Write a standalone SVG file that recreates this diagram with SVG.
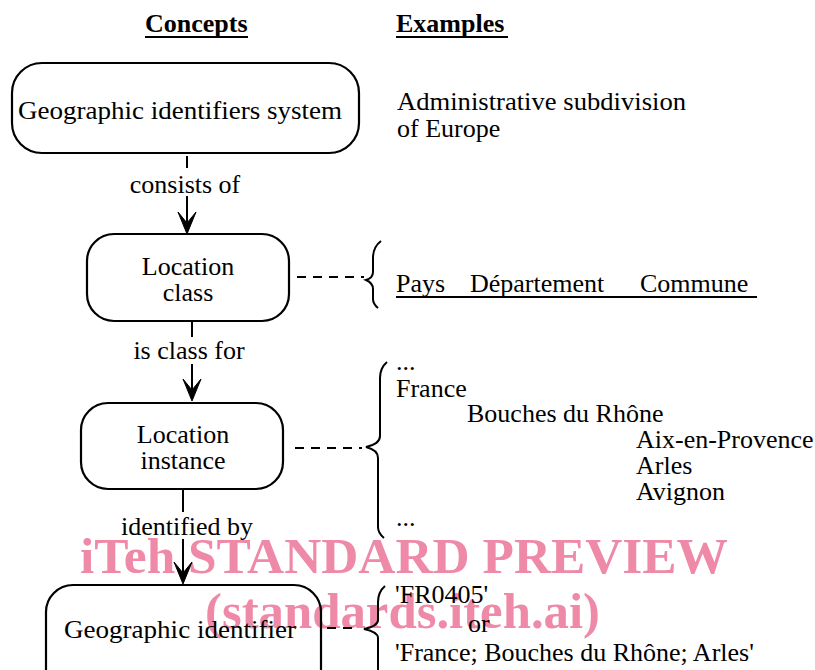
<svg xmlns="http://www.w3.org/2000/svg" width="815" height="670" viewBox="0 0 815 670">
<style>
.t{font-family:"Liberation Serif","Times New Roman",serif;font-size:26px;fill:#000}
.b{font-weight:bold}
.box{fill:none;stroke:#000;stroke-width:2.2}
.ln{fill:none;stroke:#000;stroke-width:2}
.dash{fill:none;stroke:#000;stroke-width:2;stroke-dasharray:9 7}
.br{fill:none;stroke:#000;stroke-width:2}
.wm{font-family:"Liberation Serif","Times New Roman",serif;font-weight:bold;font-size:50px;fill:#ee8aa8}
</style>
<defs>
<path id="ah" d="M0,0 L-9,-22 L0,-11 L9,-22 Z" fill="#000" stroke="#000" stroke-width="1" stroke-linejoin="round"/>
</defs>
<rect width="815" height="670" fill="#fff"/>
<g id="watermark">
<text class="wm" x="80" y="573" textLength="648" lengthAdjust="spacingAndGlyphs">iTeh STANDARD PREVIEW</text>
<text class="wm" x="205" y="628" textLength="395" lengthAdjust="spacingAndGlyphs">(standards.iteh.ai)</text>
</g>
<g id="headers">
<text class="t b" x="145" y="32">Concepts</text>
<line class="ln" x1="145" y1="37" x2="248" y2="37"/>
<text class="t b" x="396" y="32">Examples</text>
<line class="ln" x1="396" y1="37" x2="508" y2="37"/>
</g>
<g id="n1">
<rect class="box" x="12" y="63" width="347" height="90" rx="30"/>
<text class="t" x="18" y="119" textLength="324" lengthAdjust="spacingAndGlyphs">Geographic identifiers system</text>
</g>
<g id="ex1">
<text class="t" x="397" y="110" textLength="289" lengthAdjust="spacingAndGlyphs">Administrative subdivision</text>
<text class="t" x="397" y="137">of Europe</text>
</g>
<g id="n2">
<rect class="box" x="87" y="234" width="202" height="87" rx="27"/>
<text class="t" x="188" y="275" text-anchor="middle">Location</text>
<text class="t" x="188" y="301" text-anchor="middle">class</text>
</g>
<g id="ex2">
<path class="br" d="M381,241 Q373,247 373,258 L373,272 Q373,278 366,280 Q373,283 373,289 L373,299 Q373,304 378,308"/>
<text class="t" x="396" y="292">Pays</text>
<text class="t" x="470" y="292">Département</text>
<text class="t" x="640" y="292">Commune</text>
<line class="ln" x1="396" y1="297" x2="757" y2="297"/>
</g>
<g id="n3">
<rect class="box" x="81" y="403" width="202" height="86" rx="27"/>
<text class="t" x="183" y="443" text-anchor="middle">Location</text>
<text class="t" x="183" y="469" text-anchor="middle">instance</text>
</g>
<g id="ex3">
<path class="br" d="M387,362 Q380,368 380,378 L380,436 Q380,444 366,447 Q378,450 378,458 L378,527 Q378,533 384,538"/>
<text class="t" x="396" y="370">...</text>
<text class="t" x="396" y="397">France</text>
<text class="t" x="467" y="422">Bouches du Rhône</text>
<text class="t" x="636" y="448">Aix-en-Provence</text>
<text class="t" x="636" y="474">Arles</text>
<text class="t" x="636" y="500">Avignon</text>
<text class="t" x="396" y="526">...</text>
</g>
<g id="n4">
<rect class="box" x="46" y="585" width="275" height="120" rx="27"/>
<text class="t" x="64" y="638" textLength="232" lengthAdjust="spacingAndGlyphs">Geographic identifier</text>
</g>
<g id="ex4">
<path class="br" d="M385,586 Q378,592 378,602 L378,620 Q378,626 364,629 Q378,632 378,638 L378,672"/>
<text class="t" x="395" y="603">'FR0405'</text>
<text class="t" x="468" y="632">or</text>
<text class="t" x="395" y="661">'France; Bouches du Rhône; Arles'</text>
</g>
<g id="connectors">
<line class="ln" x1="187" y1="156" x2="187" y2="168"/>
<text class="t" x="185" y="193" text-anchor="middle">consists of</text>
<line class="ln" x1="187" y1="196" x2="187" y2="222"/>
<use href="#ah" transform="translate(187,234)"/>
<line class="ln" x1="192" y1="321" x2="192" y2="337"/>
<text class="t" x="189" y="359" text-anchor="middle">is class for</text>
<line class="ln" x1="192" y1="364" x2="192" y2="390"/>
<use href="#ah" transform="translate(192,401)"/>
<line class="ln" x1="183" y1="489" x2="183" y2="512"/>
<text class="t" x="187" y="535" text-anchor="middle">identified by</text>
<line class="ln" x1="183" y1="539" x2="183" y2="572"/>
<use href="#ah" transform="translate(183,584)"/>
<line class="dash" x1="297" y1="277" x2="364" y2="277"/>
<line class="dash" x1="295" y1="448" x2="362" y2="448"/>
<line class="dash" x1="327" y1="628" x2="358" y2="628"/>
</g>
</svg>
